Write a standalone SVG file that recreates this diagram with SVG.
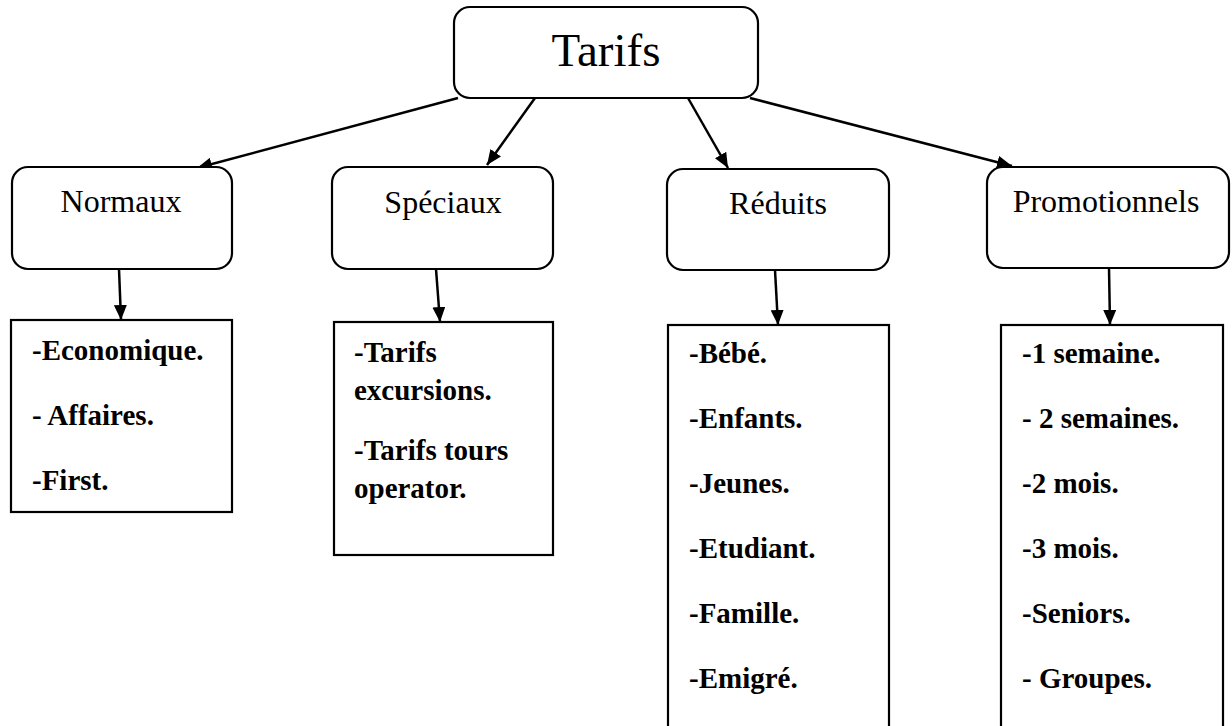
<svg xmlns="http://www.w3.org/2000/svg" width="1232" height="726" viewBox="0 0 1232 726">
  <style>
    .rbox { fill: #ffffff; stroke: #000000; stroke-width: 2.2; }
    .lbox { fill: #ffffff; stroke: #000000; stroke-width: 2.2; }
    .title { font-family: "Liberation Serif", "Times New Roman", serif; font-size: 47px; fill: #000; text-anchor: middle; }
    .cat { font-family: "Liberation Serif", "Times New Roman", serif; font-size: 32px; fill: #000; text-anchor: middle; }
    .item { font-family: "Liberation Serif", "Times New Roman", serif; font-size: 29px; font-weight: bold; fill: #000; }
    .conn { stroke: #000000; stroke-width: 2.5; fill: none; marker-end: url(#head); }
  </style>
  <defs>
    <marker id="head" viewBox="0 0 15 13" refX="15" refY="6.5" markerWidth="15" markerHeight="13" markerUnits="userSpaceOnUse" orient="auto">
      <path d="M0,0 L15,6.5 L0,13 Z" fill="#000000"/>
    </marker>
  </defs>

  <rect width="1232" height="726" fill="#ffffff"/>

  <!-- connectors -->
  <g id="connectors">
    <line class="conn" x1="458" y1="98" x2="197" y2="168"/>
    <line class="conn" x1="535" y1="98" x2="487" y2="165"/>
    <line class="conn" x1="688" y1="98" x2="728" y2="168"/>
    <line class="conn" x1="750" y1="98" x2="1012" y2="166"/>
    <line class="conn" x1="119" y1="269" x2="121" y2="320"/>
    <line class="conn" x1="436" y1="269" x2="440" y2="322"/>
    <line class="conn" x1="775" y1="270" x2="778" y2="325"/>
    <line class="conn" x1="1109" y1="268" x2="1110" y2="325"/>
  </g>

  <!-- root -->
  <g id="tarifs">
    <rect class="rbox" x="454" y="7" width="304" height="91" rx="16"/>
    <text class="title" x="606" y="66">Tarifs</text>
  </g>

  <!-- categories -->
  <g id="normaux">
    <rect class="rbox" x="12" y="167" width="220" height="102" rx="16"/>
    <text class="cat" x="121" y="212">Normaux</text>
  </g>
  <g id="speciaux">
    <rect class="rbox" x="332" y="167" width="221" height="102" rx="16"/>
    <text class="cat" x="443" y="213">Spéciaux</text>
  </g>
  <g id="reduits">
    <rect class="rbox" x="667" y="169" width="222" height="101" rx="16"/>
    <text class="cat" x="778" y="214">Réduits</text>
  </g>
  <g id="promotionnels">
    <rect class="rbox" x="987" y="167" width="242" height="101" rx="16"/>
    <text class="cat" x="1106" y="212">Promotionnels</text>
  </g>

  <!-- detail lists -->
  <g id="liste-normaux">
    <rect class="lbox" x="11" y="320" width="221" height="192"/>
    <text class="item" x="32" y="360">-Economique.</text>
    <text class="item" x="32" y="425">- Affaires.</text>
    <text class="item" x="32" y="490">-First.</text>
  </g>
  <g id="liste-speciaux">
    <rect class="lbox" x="334" y="322" width="219" height="233"/>
    <text class="item" x="354" y="362">-Tarifs</text>
    <text class="item" x="354" y="400">excursions.</text>
    <text class="item" x="354" y="460">-Tarifs tours</text>
    <text class="item" x="354" y="498">operator.</text>
  </g>
  <g id="liste-reduits">
    <rect class="lbox" x="668" y="325" width="221" height="420"/>
    <text class="item" x="689" y="363">-Bébé.</text>
    <text class="item" x="689" y="428">-Enfants.</text>
    <text class="item" x="689" y="493">-Jeunes.</text>
    <text class="item" x="689" y="558">-Etudiant.</text>
    <text class="item" x="689" y="623">-Famille.</text>
    <text class="item" x="689" y="688">-Emigré.</text>
  </g>
  <g id="liste-promotionnels">
    <rect class="lbox" x="1001" y="325" width="222" height="420"/>
    <text class="item" x="1022" y="363">-1 semaine.</text>
    <text class="item" x="1022" y="428">- 2 semaines.</text>
    <text class="item" x="1022" y="493">-2 mois.</text>
    <text class="item" x="1022" y="558">-3 mois.</text>
    <text class="item" x="1022" y="623">-Seniors.</text>
    <text class="item" x="1022" y="688">- Groupes.</text>
  </g>
</svg>
